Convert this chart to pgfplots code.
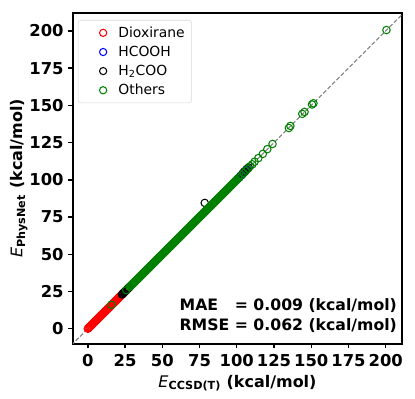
\documentclass[border=0pt]{standalone}
\usepackage{fontspec}
\setmainfont{DejaVu Sans}
\usepackage{pgfplots}
\pgfplotsset{compat=1.18}
\definecolor{mplgreen}{RGB}{0,128,0}
\begin{document}
\begin{tikzpicture}
\begin{axis}[
  width=237pt, height=238pt, scale only axis,
  xmin=-10, xmax=211, ymin=-10, ymax=212,
  xtick={0,25,...,200}, ytick={0,25,...,200},
  tick align=outside, xtick pos=bottom, ytick pos=left,
  major tick length=3.2pt,
  tick style={black, line width=1pt},
  axis line style={line width=1.6pt},
  tick label style={font=\fontsize{11.8}{13}\selectfont\bfseries},
  xticklabel style={yshift=-1pt},
  yticklabel style={xshift=0pt},
  /pgf/number format/assume math mode=true,
  xlabel={\textit{\mdseries E}\textsubscript{CCSD(T)} (kcal/mol)},
  ylabel={\textit{\mdseries E}\textsubscript{PhysNet} (kcal/mol)},
  label style={font=\fontsize{11.5}{13}\selectfont\bfseries},
  xlabel style={yshift=1pt},
  ylabel style={yshift=-5.5pt},
  legend style={at={(0.015,0.979)}, anchor=north west, draw=black!15, rounded corners=2pt, fill=white,
    font=\fontsize{10}{12}\selectfont, row sep=0.8pt, inner xsep=3pt, inner ysep=2.5pt},
  legend cell align=left,
  legend image code/.code={\path[draw=none] (0pt,0pt) -- (24pt,0pt); \draw[#1] (15pt,0pt) circle (2.6pt);},
]
\addplot[only marks, mark=o, mark size=2.7pt, red, line width=0.75pt] coordinates {
(0,0) (0.5,0.5) (1,1) (1.5,1.5) (2,2) (2.5,2.5) (3,3) (3.5,3.5) (4,4) (4.5,4.5) (5,5) (5.5,5.5) (6,6) (6.5,6.5) (7,7) (7.5,7.5) (8,8) (8.5,8.5) (9,9) (9.5,9.5) (10,10) (10.5,10.5) (11,11) (11.5,11.5) (12,12) (12.5,12.5) (13,13) (13.5,13.5) (14,14) (14.5,14.5) (15,15) (15.5,15.5) (16,16) (16.5,16.5) (17,17) (17.5,17.5) (18,18) (18.5,18.5) (19,19) (19.5,19.5) (20,20) (20.5,20.5) (21,21) (21.5,21.5) (22,22) (22.5,22.5) (23,23) (23.5,23.5)
};
\addlegendentry{Dioxirane}
\addplot[only marks, mark=o, mark size=2.7pt, blue, line width=0.75pt] coordinates {
(100.5,100.6) (101.5,101.4) (102.5,102.7) (103.5,103.3) (104.5,104.8) (105.5,105.4) (106.5,106.9)
};
\addlegendentry{HCOOH}
\addplot[only marks, mark=o, mark size=2.7pt, black, line width=0.75pt] coordinates {
(23,23) (23.5,23.5) (24,24) (24.5,24.5) (25,25) (25.5,25.5) (26,26) (26.5,26.5) (27,27) (27.5,27.5) (28,28)
(78.5,84.5) (104,104.3) (105,105.5) (106,106.2) (107,107.4) (108,108.3)
};
\addlegendentry{H\textsubscript{2}COO}
\addplot[only marks, mark=o, mark size=2.7pt, mplgreen, line width=0.75pt] coordinates {
(15.8,16.1) (25.8,25.9)
(28,28) (28.5,28.5) (29,29) (29.5,29.5) (30,30) (30.5,30.5) (31,31) (31.5,31.5) (32,32) (32.5,32.5)
(33,33) (33.5,33.5) (34,34) (34.5,34.5) (35,35) (35.5,35.5) (36,36) (36.5,36.5) (37,37) (37.5,37.5)
(38,38) (38.5,38.5) (39,39) (39.5,39.5) (40,40) (40.5,40.5) (41,41) (41.5,41.5) (42,42) (42.5,42.5)
(43,43) (43.5,43.5) (44,44) (44.5,44.5) (45,45) (45.5,45.5) (46,46) (46.5,46.5) (47,47) (47.5,47.5)
(48,48) (48.5,48.5) (49,49) (49.5,49.5) (50,50) (50.5,50.5) (51,51) (51.5,51.5) (52,52) (52.5,52.5)
(53,53) (53.5,53.5) (54,54) (54.5,54.5) (55,55) (55.5,55.5) (56,56) (56.5,56.5) (57,57) (57.5,57.5)
(58,58) (58.5,58.5) (59,59) (59.5,59.5) (60,60) (60.5,60.5) (61,61) (61.5,61.5) (62,62) (62.5,62.5)
(63,63) (63.5,63.5) (64,64) (64.5,64.5) (65,65) (65.5,65.5) (66,66) (66.5,66.5) (67,67) (67.5,67.5)
(68,68) (68.5,68.5) (69,69) (69.5,69.5) (70,70) (70.5,70.5) (71,71) (71.5,71.5) (72,72) (72.5,72.5)
(73,73) (73.5,73.5) (74,74) (74.5,74.5) (75,75) (75.5,75.5) (76,76) (76.5,76.5) (77,77) (77.5,77.5)
(78,78) (78.5,78.5) (79,79) (79.5,79.5) (80,80) (80.5,80.5) (81,81) (81.5,81.5) (82,82) (82.5,82.5)
(83,83) (83.5,83.5) (84,84) (84.5,84.5) (85,85) (85.5,85.5) (86,86) (86.5,86.5) (87,87) (87.5,87.5)
(88,88) (88.5,88.5) (89,89) (89.5,89.5) (90,90) (90.5,90.5) (91,91) (91.5,91.5) (92,92) (92.5,92.5)
(93,93) (93.5,93.5) (94,94) (94.5,94.5) (95,95) (95.5,95.5) (96,96) (96.5,96.5) (97,97) (97.5,97.5)
(98,98) (98.5,98.5) (99,99) (99.5,99.5) (100,100)
(101,101.1) (102,101.9) (103.2,103.2) (104.6,104.5) (106,106.1) (107.5,107.4) (109,109.2) (110.5,110.4)
(112,112.2) (114.5,114.6) (117.5,117.4) (120.5,120.6) (124,124.1) (135,134.8) (136,136.2)
(144,144.3) (145.5,145.6) (150.5,150.6) (151.5,151.4) (200.5,200.6)
};
\addlegendentry{Others}
\addplot[forget plot, gray, line width=0.8pt, dash pattern=on 3pt off 1.5pt] coordinates {(-20,-20) (230,230)};
\node[anchor=base east, font=\fontsize{11.3}{14.4}\selectfont\bfseries, inner sep=0pt] at (rel axis cs:0.985,0.041)
  {\begin{tabular}[b]{@{}l@{}l@{}}MAE & \ = 0.009 (kcal/mol)\\ RMSE & \ = 0.062 (kcal/mol)\end{tabular}};
\end{axis}
\pgfresetboundingbox
\path (current axis.south west) ++(-52.5pt,-39.3pt);
\path (current axis.north east) ++(9.3pt,9.4pt);
\end{tikzpicture}
\end{document}
